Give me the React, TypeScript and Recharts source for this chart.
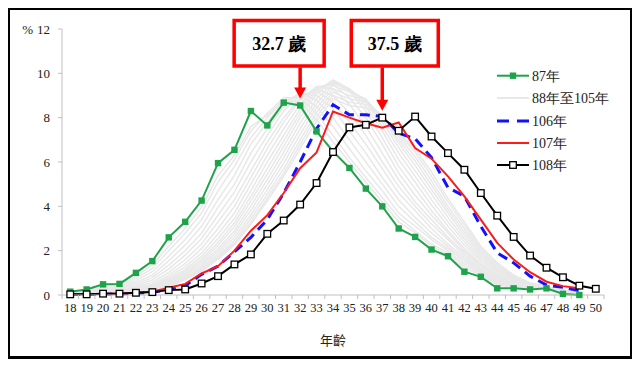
import { LineChart, Line, XAxis, YAxis, ReferenceDot } from "recharts";

// 年齡 18 ~ 50
const ages = [18, 19, 20, 21, 22, 23, 24, 25, 26, 27, 28, 29, 30, 31, 32, 33, 34, 35, 36, 37, 38, 39, 40, 41, 42, 43, 44, 45, 46, 47, 48, 49, 50];

const s87 = [0.15, 0.25, 0.48, 0.5, 1.0, 1.53, 2.6, 3.3, 4.26, 5.95, 6.55, 8.3, 7.65, 8.68, 8.55, 7.38, 6.48, 5.73, 4.8, 4.0, 3.0, 2.62, 2.05, 1.75, 1.05, 0.82, 0.3, 0.3, 0.25, 0.3, 0.05, 0.0, null];
const s106 = [0.02, 0.02, 0.03, 0.05, 0.08, 0.12, 0.25, 0.42, 0.93, 1.3, 1.95, 2.6, 3.4, 4.6, 6.0, 7.5, 8.58, 8.13, 8.13, 8.05, 7.3, 7.05, 6.2, 4.85, 4.45, 3.1, 1.9, 1.45, 0.85, 0.45, 0.35, 0.2, null];
const s107 = [0.03, 0.04, 0.05, 0.07, 0.1, 0.15, 0.33, 0.5, 0.97, 1.3, 2.0, 2.9, 3.6, 4.6, 5.72, 6.43, 8.28, 8.0, 7.75, 7.55, 7.78, 6.63, 6.15, 5.35, 4.45, 3.4, 2.35, 1.6, 1.03, 0.6, 0.4, 0.3, null];
const s108 = [0.03, 0.03, 0.06, 0.06, 0.1, 0.13, 0.22, 0.25, 0.52, 0.85, 1.38, 1.83, 2.76, 3.36, 4.08, 5.05, 6.45, 7.56, 7.68, 8.0, 7.41, 8.05, 7.15, 6.4, 5.65, 4.6, 3.58, 2.62, 1.78, 1.23, 0.8, 0.42, 0.28];

// 88年至105年 (灰線)
const g88 = [0.12, 0.2, 0.38, 0.45, 0.85, 1.35, 2.2, 3.0, 3.95, 5.4, 6.3, 7.6, 8.1, 8.8, 8.7, 7.9, 6.9, 6.0, 5.1, 4.2, 3.3, 2.8, 2.2, 1.8, 1.2, 0.9, 0.45, 0.35, 0.28, 0.25, 0.1, 0.05, null];
const g89 = [0.1, 0.18, 0.33, 0.42, 0.75, 1.2, 2.0, 2.8, 3.7, 5.1, 6.1, 7.4, 8.2, 8.9, 8.9, 8.2, 7.2, 6.2, 5.3, 4.4, 3.5, 2.9, 2.3, 1.9, 1.3, 0.95, 0.5, 0.38, 0.3, 0.26, 0.12, 0.06, null];
const g90 = [0.09, 0.15, 0.28, 0.38, 0.65, 1.05, 1.75, 2.5, 3.4, 4.7, 5.8, 7.1, 8.0, 8.8, 9.0, 8.5, 7.6, 6.6, 5.6, 4.7, 3.7, 3.1, 2.5, 2.0, 1.4, 1.0, 0.55, 0.4, 0.3, 0.27, 0.13, 0.06, null];
const g91 = [0.08, 0.13, 0.24, 0.33, 0.56, 0.9, 1.55, 2.25, 3.1, 4.3, 5.4, 6.8, 7.8, 8.7, 9.1, 8.8, 8.0, 7.0, 6.0, 5.0, 4.0, 3.3, 2.6, 2.1, 1.5, 1.05, 0.6, 0.42, 0.3, 0.27, 0.13, 0.06, null];
const g92 = [0.07, 0.11, 0.2, 0.28, 0.48, 0.78, 1.35, 2.0, 2.8, 3.95, 5.0, 6.4, 7.5, 8.5, 9.1, 9.0, 8.4, 7.4, 6.4, 5.3, 4.3, 3.5, 2.8, 2.2, 1.6, 1.1, 0.65, 0.45, 0.32, 0.27, 0.14, 0.07, null];
const g93 = [0.06, 0.1, 0.17, 0.24, 0.41, 0.68, 1.18, 1.8, 2.55, 3.6, 4.65, 6.0, 7.2, 8.3, 9.0, 9.2, 8.7, 7.8, 6.8, 5.7, 4.6, 3.8, 3.0, 2.3, 1.7, 1.15, 0.7, 0.48, 0.33, 0.28, 0.15, 0.07, null];
const g94 = [0.05, 0.09, 0.15, 0.21, 0.35, 0.58, 1.02, 1.6, 2.3, 3.3, 4.3, 5.6, 6.9, 8.0, 8.9, 9.3, 9.0, 8.2, 7.2, 6.0, 4.9, 4.0, 3.2, 2.5, 1.8, 1.2, 0.75, 0.5, 0.34, 0.28, 0.15, 0.07, null];
const g95 = [0.05, 0.08, 0.13, 0.18, 0.3, 0.5, 0.9, 1.42, 2.1, 3.0, 4.0, 5.3, 6.6, 7.8, 8.8, 9.4, 9.3, 8.6, 7.6, 6.4, 5.2, 4.2, 3.4, 2.6, 1.9, 1.3, 0.8, 0.52, 0.35, 0.29, 0.16, 0.08, null];
const g96 = [0.04, 0.07, 0.11, 0.16, 0.26, 0.44, 0.8, 1.28, 1.9, 2.75, 3.7, 5.0, 6.3, 7.5, 8.6, 9.4, 9.5, 8.9, 8.0, 6.8, 5.5, 4.5, 3.6, 2.8, 2.0, 1.35, 0.85, 0.55, 0.36, 0.3, 0.16, 0.08, null];
const g97 = [0.04, 0.06, 0.1, 0.14, 0.23, 0.39, 0.72, 1.16, 1.75, 2.55, 3.45, 4.7, 6.0, 7.2, 8.4, 9.3, 9.6, 9.2, 8.3, 7.1, 5.8, 4.8, 3.8, 2.9, 2.1, 1.4, 0.9, 0.58, 0.37, 0.3, 0.17, 0.08, null];
const g98 = [0.03, 0.05, 0.09, 0.13, 0.21, 0.36, 0.66, 1.08, 1.62, 2.38, 3.25, 4.45, 5.7, 6.95, 8.2, 9.2, 9.7, 9.3, 8.5, 7.4, 6.1, 5.1, 4.05, 3.1, 2.25, 1.5, 0.98, 0.62, 0.4, 0.31, 0.17, 0.09, null];
const g99 = [0.03, 0.05, 0.08, 0.12, 0.19, 0.33, 0.6, 1.0, 1.52, 2.24, 3.08, 4.25, 5.45, 6.7, 8.0, 9.05, 9.65, 9.3, 8.7, 7.6, 6.4, 5.35, 4.3, 3.3, 2.4, 1.6, 1.05, 0.66, 0.42, 0.32, 0.18, 0.09, null];
const g100 = [0.03, 0.04, 0.07, 0.11, 0.17, 0.3, 0.55, 0.93, 1.42, 2.1, 2.9, 4.02, 5.2, 6.45, 7.75, 8.85, 9.55, 9.25, 8.8, 7.8, 6.65, 5.6, 4.55, 3.5, 2.55, 1.7, 1.1, 0.7, 0.44, 0.33, 0.18, 0.1, null];
const g101 = [0.02, 0.04, 0.06, 0.1, 0.16, 0.28, 0.51, 0.86, 1.33, 1.98, 2.75, 3.82, 4.98, 6.2, 7.5, 8.65, 9.45, 9.15, 8.85, 7.95, 6.85, 5.85, 4.75, 3.7, 2.7, 1.8, 1.18, 0.74, 0.46, 0.34, 0.19, 0.1, null];
const g102 = [0.02, 0.03, 0.05, 0.09, 0.15, 0.26, 0.47, 0.8, 1.25, 1.86, 2.6, 3.62, 4.75, 5.95, 7.25, 8.45, 9.3, 9.0, 8.8, 8.05, 7.0, 6.05, 4.95, 3.85, 2.85, 1.9, 1.25, 0.78, 0.48, 0.35, 0.2, 0.11, null];
const g103 = [0.02, 0.03, 0.05, 0.08, 0.14, 0.24, 0.44, 0.75, 1.18, 1.76, 2.46, 3.45, 4.55, 5.7, 7.0, 8.25, 9.15, 8.85, 8.7, 8.1, 7.15, 6.25, 5.15, 4.0, 3.0, 2.0, 1.32, 0.82, 0.5, 0.36, 0.21, 0.11, null];
const g104 = [0.02, 0.03, 0.04, 0.07, 0.13, 0.23, 0.41, 0.71, 1.12, 1.68, 2.35, 3.3, 4.38, 5.5, 6.8, 8.05, 9.0, 8.7, 8.6, 8.1, 7.25, 6.45, 5.35, 4.2, 3.15, 2.1, 1.4, 0.86, 0.52, 0.37, 0.22, 0.12, null];
const g105 = [0.02, 0.03, 0.04, 0.07, 0.12, 0.22, 0.39, 0.68, 1.07, 1.62, 2.26, 3.18, 4.25, 5.35, 6.6, 7.85, 8.85, 8.55, 8.45, 8.1, 7.3, 6.6, 5.55, 4.35, 3.3, 2.2, 1.45, 0.9, 0.55, 0.38, 0.23, 0.12, null];

const grayYears = ["g88", "g89", "g90", "g91", "g92", "g93", "g94", "g95", "g96", "g97", "g98", "g99", "g100", "g101", "g102", "g103", "g104", "g105"];
const grayValues = [g88, g89, g90, g91, g92, g93, g94, g95, g96, g97, g98, g99, g100, g101, g102, g103, g104, g105];

const yTicks = [0, 2, 4, 6, 8, 10, 12];

const data = ages.map((age, i) => {
  const row: Record<string, number | null> = { age, y87: s87[i], y106: s106[i], y107: s107[i], y108: s108[i] };
  grayYears.forEach((k, j) => {
    row[k] = grayValues[j][i];
  });
  return row;
});

const GREEN = "#1fa34a";
const BLUE = "#1212ff";
const RED = "#ff1a1a";
const GRAY = "#e8e8e8";
const SERIF = "Liberation Serif, Times New Roman, serif";
const CJK = "Noto Sans CJK TC, Noto Sans CJK SC, sans-serif";

const HALF_BAND = 8.2;

const XTick = (props: any) => {
  const { x, y, payload, index } = props;
  return (
    <g>
      <line x1={x - HALF_BAND} x2={x - HALF_BAND} y1={y} y2={y + 4} stroke="#bfbfbf" />
      {index === ages.length - 1 && (
        <line x1={x + HALF_BAND} x2={x + HALF_BAND} y1={y} y2={y + 4} stroke="#bfbfbf" />
      )}
      <text x={x} y={y + 17} textAnchor="middle" style={{ fontFamily: SERIF, fontSize: 12.5 }} fill="#222">
        {payload.value}
      </text>
    </g>
  );
};

const YTick = (props: any) => {
  const { x, y, payload } = props;
  return (
    <g>
      {payload.value === 12 && (
        <text x={x - 17} y={y + 4.5} textAnchor="end" style={{ fontFamily: SERIF, fontSize: 13 }} fill="#222">
          %
        </text>
      )}
      <text x={x} y={y + 4.5} textAnchor="end" style={{ fontFamily: SERIF, fontSize: 13 }} fill="#222">
        {payload.value}
      </text>
    </g>
  );
};

const FilledSquare = (props: any) => {
  const { cx, cy, index } = props;
  if (cx == null || cy == null) return <g key={index} />;
  return <rect key={index} x={cx - 3.2} y={cy - 3.2} width={6.4} height={6.4} fill={GREEN} />;
};

const OpenSquare = (props: any) => {
  const { cx, cy, index } = props;
  if (cx == null || cy == null) return <g key={index} />;
  return <rect key={index} x={cx - 3.3} y={cy - 3.3} width={6.6} height={6.6} fill="#fff" stroke="#000" strokeWidth={1.3} />;
};

// 註記框: 箭頭指向的年齡與數值
const annotations = [
  { age: 32, value: s87[14], label: "32.7 歲", boxLeft: -66, boxWidth: 90 },
  { age: 37, value: s108[19], label: "37.5 歲", boxLeft: -31, boxWidth: 87 },
];

const makeCallout = (boxLeft: number, boxWidth: number, label: string) => (props: any) => {
  const { cx, cy } = props;
  const tip = cy - 7;
  const boxTop = 10.5;
  const boxBottom = 56;
  return (
    <g>
      <rect x={cx + boxLeft} y={boxTop} width={boxWidth} height={boxBottom - boxTop} fill="#fff" stroke="#f00" strokeWidth={3.5} />
      <text
        x={cx + boxLeft + boxWidth / 2}
        y={(boxTop + boxBottom) / 2 + 6.5}
        textAnchor="middle"
        style={{ fontFamily: SERIF, fontWeight: "bold", fontSize: 18 }}
        fill="#000"
      >
        {label}
      </text>
      <line x1={cx} x2={cx} y1={boxBottom + 1.5} y2={tip - 9} stroke="#f00" strokeWidth={3.5} />
      <polygon points={`${cx - 6},${tip - 11} ${cx + 6},${tip - 11} ${cx},${tip}`} fill="#f00" />
    </g>
  );
};

const legendItems = [
  { label: "87年", kind: "green" },
  { label: "88年至105年", kind: "gray" },
  { label: "106年", kind: "blue" },
  { label: "107年", kind: "red" },
  { label: "108年", kind: "black" },
];

function LegendBox() {
  const rowY = [15.7, 38, 61, 83, 105];
  return (
    <svg width={140} height={120} style={{ position: "absolute", left: 480, top: 50, pointerEvents: "none" }}>
      {legendItems.map((it, i) => {
        const y = rowY[i];
        return (
          <g key={it.label}>
            {it.kind === "green" && (
              <>
                <line x1={7} x2={39} y1={y} y2={y} stroke={GREEN} strokeWidth={2} />
                <rect x={19.8} y={y - 3.2} width={6.4} height={6.4} fill={GREEN} />
              </>
            )}
            {it.kind === "gray" && <line x1={7} x2={39} y1={y} y2={y} stroke={GRAY} strokeWidth={2} />}
            {it.kind === "blue" && <line x1={7} x2={39} y1={y} y2={y} stroke={BLUE} strokeWidth={3} strokeDasharray="12 8" />}
            {it.kind === "red" && <line x1={7} x2={39} y1={y} y2={y} stroke={RED} strokeWidth={2} />}
            {it.kind === "black" && (
              <>
                <line x1={7} x2={39} y1={y} y2={y} stroke="#000" strokeWidth={2} />
                <rect x={19.7} y={y - 3.3} width={6.6} height={6.6} fill="#fff" stroke="#000" strokeWidth={1.3} />
              </>
            )}
            <text x={42} y={y + 5} style={{ fontFamily: SERIF, fontSize: 14 }} fill="#222">
              {it.label}
            </text>
          </g>
        );
      })}
    </svg>
  );
}

export default function App() {
  return (
    <div
      style={{
        position: "relative",
        width: 620,
        height: 346,
        border: "2px solid #000",
        borderRightWidth: 3,
        borderBottomWidth: 3,
        background: "#fff",
      }}
    >
      <LineChart width={620} height={346} data={data} margin={{ top: 19, right: 26, bottom: 5, left: 12 }}>
        <XAxis
          dataKey="age"
          type="number"
          domain={[17.5, 50.5]}
          ticks={ages}
          interval={0}
          tickSize={0}
          tickMargin={0}
          tickLine={false}
          tick={<XTick />}
          axisLine={{ stroke: "#bfbfbf" }}
          height={56}
          label={{ value: "年齡", position: "insideBottom", offset: 6, fontFamily: CJK, fontSize: 13, fill: "#222" }}
        />
        <YAxis
          domain={[0, 12]}
          ticks={yTicks}
          interval={0}
          width={40}
          tickSize={4}
          tickMargin={8}
          tick={<YTick />}
          tickLine={{ stroke: "#bfbfbf" }}
          axisLine={{ stroke: "#bfbfbf" }}
        />
        {grayYears.map((k) => (
          <Line key={k} dataKey={k} stroke={GRAY} strokeWidth={1.5} dot={false} isAnimationActive={false} />
        ))}
        <Line dataKey="y87" stroke={GREEN} strokeWidth={2} dot={FilledSquare} isAnimationActive={false} />
        <Line dataKey="y106" stroke={BLUE} strokeWidth={3} strokeDasharray="10 6" dot={false} isAnimationActive={false} />
        <Line dataKey="y107" stroke={RED} strokeWidth={2} dot={false} isAnimationActive={false} />
        <Line dataKey="y108" stroke="#000" strokeWidth={2} dot={OpenSquare} isAnimationActive={false} />
        {annotations.map((a) => (
          <ReferenceDot
            key={a.label}
            x={a.age}
            y={a.value as number}
            r={0}
            ifOverflow="visible"
            shape={makeCallout(a.boxLeft, a.boxWidth, a.label)}
          />
        ))}
      </LineChart>
      <LegendBox />
    </div>
  );
}
